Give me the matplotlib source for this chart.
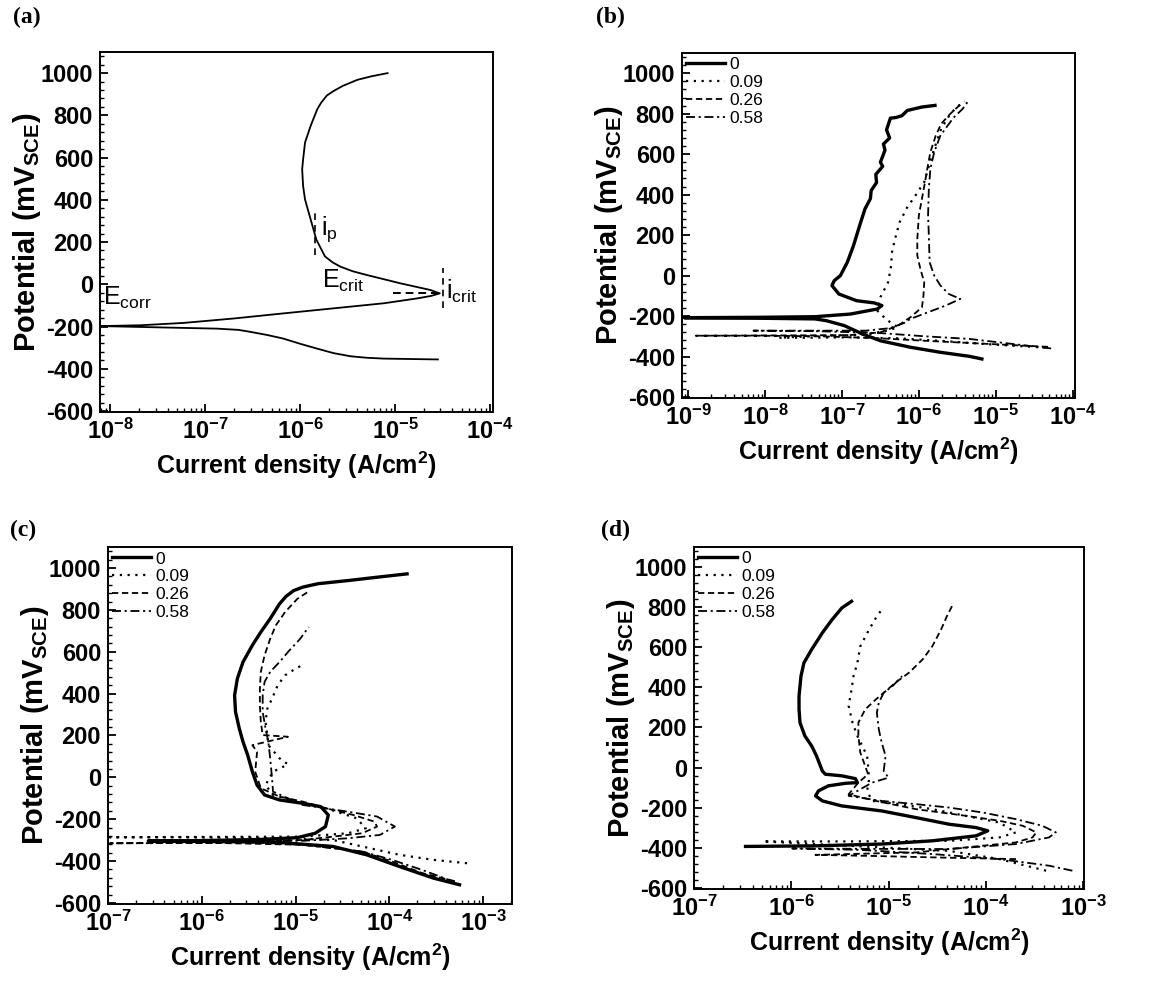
import numpy as np
import matplotlib
matplotlib.use('Agg')
import matplotlib.pyplot as plt
from matplotlib.ticker import FixedLocator, FixedFormatter, LogLocator, MultipleLocator, NullFormatter

plt.rcParams['font.family'] = ['Liberation Sans', 'DejaVu Sans']
plt.rcParams['mathtext.fontset'] = 'custom'
plt.rcParams['mathtext.rm'] = 'Liberation Sans'
plt.rcParams['mathtext.it'] = 'Liberation Sans:italic'
plt.rcParams['mathtext.bf'] = 'Liberation Sans:bold'
plt.rcParams['axes.unicode_minus'] = False

# ---- data (log10 of current density in A/cm2, potential in mV_SCE) ----
y_ticks = [-600, -400, -200, 0, 200, 400, 600, 800, 1000]
series_labels = ['0', '0.09', '0.26', '0.58']

# (a) schematic curve
a_logi = [-5.08, -5.25, -5.40, -5.55, -5.65, -5.72, -5.78, -5.82, -5.89, -5.95, -5.97, -5.98,
          -5.97, -5.95, -5.89, -5.83, -5.74, -5.66, -5.58, -5.45, -5.30, -5.12, -4.95, -4.78,
          -4.63, -4.53, -4.62, -4.77, -5.12, -5.65, -6.18, -6.70, -7.23, -7.68, -8.10, -7.40,
          -6.88, -6.65, -6.53, -6.35, -6.18, -6.00, -5.82, -5.65, -5.47, -5.30, -5.12, -4.55]
a_E = [1000, 985, 968, 940, 915, 894, 860, 830, 751, 671, 592, 544,
       465, 402, 306, 211, 132, 104, 84, 62, 44, 24, 5, -12,
       -27, -43, -55, -67, -90, -114, -138, -162, -183, -194, -198, -205,
       -210, -216, -225, -240, -257, -282, -305, -326, -341, -348, -352, -356]
ip_logi, ip_E = [-5.84, -5.84], [140, 345]
icrit_h_logi, icrit_h_E = [-5.02, -4.53], [-40, -40]
icrit_v_logi, icrit_v_E = [-4.50, -4.50], [-114, 76]

# (b)
b0_logi = [-5.79, -5.96, -6.15, -6.22, -6.30, -6.37, -6.42, -6.38, -6.46, -6.44, -6.50, -6.47,
           -6.56, -6.55, -6.62, -6.63, -6.70, -6.77, -6.85, -6.93, -7.02, -7.10, -7.13, -7.04,
           -6.81, -6.58, -6.48, -6.54, -6.89, -7.35, -8.05, -9.05, -8.00, -7.35, -7.20, -6.97,
           -6.73, -6.50, -6.11, -5.72, -5.34, -5.18]
b0_E = [841, 833, 816, 790, 781, 778, 720, 680, 650, 620, 560, 540,
        500, 460, 420, 380, 330, 247, 148, 66, 0, -25, -49, -91,
        -124, -135, -148, -165, -190, -203, -206, -208, -211, -214, -223, -247,
        -289, -322, -354, -379, -399, -412]
b09_logi = [-4.35, -5.14, -5.72, -6.27, -6.89, -7.47, -7.82, -7.30, -6.69, -6.42, -6.27, -6.42,
            -6.54, -6.50, -6.40, -6.36, -6.35, -6.31, -6.25, -6.15, -6.03, -5.93, -5.88, -5.80,
            -5.71, -5.59, -5.49, -5.40]
b09_E = [-356, -338, -322, -310, -305, -307, -307, -298, -293, -272, -256, -218,
         -173, -107, -33, 49, 115, 181, 264, 338, 404, 462, 528, 627,
         725, 800, 838, 860]
b26_logi = [-4.32, -5.34, -5.92, -6.50, -7.28, -8.05, -8.90, -8.00, -6.89, -6.50, -6.27, -6.11,
            -5.96, -5.94, -5.93, -5.98, -6.02, -6.02, -6.00, -5.96, -5.92, -5.89, -5.85, -5.78,
            -5.71, -5.59, -5.45]
b26_E = [-352, -333, -322, -310, -300, -297, -297, -296, -294, -280, -247, -206,
         -157, -99, -33, 33, 99, 181, 297, 379, 462, 528, 610, 692,
         750, 800, 849]
b58_logi = [-4.28, -5.34, -5.92, -6.50, -7.28, -8.15, -7.30, -6.69, -6.38, -6.19, -6.11, -5.88,
            -5.65, -5.46, -5.61, -5.72, -5.80, -5.86, -5.87, -5.88, -5.87, -5.85, -5.80, -5.72,
            -5.55, -5.43, -5.36]
b58_E = [-360, -313, -300, -284, -275, -272, -272, -272, -260, -234, -214, -181,
         -148, -115, -91, -49, 0, 66, 198, 297, 429, 528, 610, 692,
         780, 824, 861]

# (c)
c0_logi = [-3.81, -4.13, -4.44, -4.76, -4.92, -5.02, -5.10, -5.17, -5.27, -5.37, -5.46, -5.56,
           -5.62, -5.65, -5.64, -5.60, -5.56, -5.51, -5.46, -5.41, -5.33, -5.17, -4.92, -4.73,
           -4.65, -4.68, -4.79, -4.98, -5.40, -6.03, -6.57, -6.00, -5.20, -4.60, -4.24, -3.89,
           -3.53, -3.25]
c0_E = [972, 956, 940, 925, 909, 892, 865, 829, 758, 694, 631, 551,
        472, 392, 313, 234, 170, 106, 27, -37, -84, -108, -124, -140,
        -180, -235, -267, -288, -297, -302, -303, -306, -310, -330, -370, -426,
        -481, -513]
c09_logi = [-3.17, -3.53, -3.89, -4.29, -4.60, -5.20, -6.19, -6.98, -6.20, -4.92, -4.44, -4.25,
            -4.35, -4.67, -4.98, -5.24, -5.32, -5.24, -5.08, -5.17, -5.29, -5.30, -5.32, -5.30,
            -5.25, -5.19, -5.11, -5.00, -4.90]
c09_E = [-410, -394, -370, -330, -299, -290, -286, -286, -285, -283, -267, -243,
         -195, -148, -116, -84, -37, 27, 62, 91, 154, 202, 265, 329,
         376, 440, 488, 519, 543]
c26_logi = [-3.30, -3.65, -3.97, -4.29, -4.92, -5.87, -6.98, -5.87, -4.92, -4.60, -4.29, -4.13,
            -4.16, -4.38, -4.67, -4.92, -5.17, -5.37, -5.43, -5.41, -5.46, -5.08, -5.35, -5.37,
            -5.38, -5.38, -5.37, -5.33, -5.27, -5.21, -5.11, -4.98, -4.87]
c26_E = [-496, -457, -402, -354, -322, -313, -315, -311, -299, -283, -267, -235,
         -211, -180, -148, -116, -92, -52, 27, 122, 154, 194, 202, 265,
         345, 424, 504, 583, 662, 726, 790, 853, 885]
c58_logi = [-3.30, -3.65, -3.97, -4.29, -4.92, -5.60, -6.35, -5.60, -4.92, -4.44, -4.10, -3.94,
            -4.13, -4.44, -4.92, -5.24, -5.25, -5.27, -5.29, -5.32, -5.35, -5.35, -5.33, -5.27,
            -5.17, -5.08, -4.95, -4.86]
c58_E = [-500, -442, -394, -354, -322, -308, -306, -304, -303, -291, -275, -235,
         -187, -164, -132, -68, -5, 91, 170, 234, 313, 392, 456, 504,
         551, 599, 662, 718]

# (d)
d0_logi = [-5.38, -5.48, -5.58, -5.68, -5.79, -5.87, -5.90, -5.92, -5.92, -5.91, -5.86, -5.79,
           -5.74, -5.70, -5.68, -5.65, -5.48, -5.34, -5.32, -5.44, -5.62, -5.72, -5.75, -5.68,
           -5.48, -5.07, -4.72, -4.38, -4.10, -3.98, -4.10, -4.55, -5.07, -5.75, -6.47]
d0_E = [829, 796, 738, 672, 589, 522, 456, 357, 290, 224, 158, 108,
        58, 8, -17, -33, -41, -55, -75, -78, -91, -116, -141, -166,
        -191, -216, -249, -282, -299, -315, -340, -365, -381, -390, -393]
d09_logi = [-3.38, -3.86, -4.38, -5.07, -5.60, -6.29, -5.41, -4.38, -3.86, -3.69, -3.86, -4.21,
            -4.55, -4.89, -5.17, -5.22, -5.20, -5.21, -5.22, -5.27, -5.32, -5.37, -5.41, -5.38,
            -5.36, -5.32, -5.29, -5.20, -5.13, -5.07]
d09_E = [-514, -456, -415, -398, -385, -368, -368, -365, -348, -323, -274, -240,
         -207, -182, -166, -116, -60, 8, 58, 108, 158, 224, 307, 390,
         456, 522, 605, 688, 746, 788]
d26_logi = [-3.69, -4.50, -5.20, -5.75, -5.00, -4.72, -4.21, -3.69, -3.52, -3.48, -3.62, -3.86,
            -4.21, -4.72, -5.13, -5.41, -5.31, -5.21, -5.24, -5.29, -5.31, -5.31, -5.24, -5.13,
            -5.03, -4.93, -4.79, -4.65, -4.55, -4.46, -4.40, -4.33]
d26_E = [-456, -448, -440, -435, -426, -423, -398, -373, -348, -323, -290, -265,
         -240, -207, -166, -133, -75, -33, 8, 75, 158, 224, 290, 340,
         381, 423, 473, 539, 605, 688, 755, 821]
d58_logi = [-3.11, -3.35, -3.86, -4.55, -5.30, -5.99, -5.20, -4.38, -3.69, -3.35, -3.28, -3.42,
            -3.69, -4.03, -4.38, -4.72, -5.07, -5.41, -5.17, -5.00, -5.05, -5.03, -5.07, -5.10,
            -5.12, -5.10, -5.05, -4.96, -4.86]
d58_E = [-514, -489, -456, -431, -410, -403, -405, -406, -381, -348, -323, -290,
         -257, -224, -199, -182, -166, -141, -75, -50, -17, 58, 124, 191,
         274, 323, 373, 406, 456]

styles = [dict(ls='-', lw=2.4, color='black'),
          dict(ls=(0, (1, 2.5)), lw=1.6, color='black'),
          dict(ls=(0, (3.5, 2)), lw=1.3, color='black'),
          dict(ls=(0, (5, 2, 1.2, 2)), lw=1.3, color='black')]


def cur(logi):
    return 10.0 ** np.array(logi)


def style_axes(ax, xlo, xhi, xexp):
    ax.set_xscale('log')
    ax.set_xlim(10.0 ** xlo, 10.0 ** xhi)
    ax.set_ylim(-605, 1100)
    ax.xaxis.set_major_locator(FixedLocator([10.0 ** e for e in xexp]))
    ax.xaxis.set_major_formatter(FixedFormatter([r'$\mathbf{10^{%d}}$' % e for e in xexp]))
    ax.xaxis.set_minor_locator(LogLocator(base=10, subs=np.arange(2, 10), numticks=20))
    ax.xaxis.set_minor_formatter(NullFormatter())
    ax.set_yticks(y_ticks)
    ax.set_yticklabels([str(v) for v in y_ticks], fontweight='bold')
    ax.yaxis.set_minor_locator(MultipleLocator(40))
    ax.tick_params(which='both', direction='in', top=False, right=False)
    ax.tick_params(which='major', length=6, width=1.3, labelsize=17, pad=5)
    ax.tick_params(which='minor', length=3, width=1)
    for s in ax.spines.values():
        s.set_linewidth(1.4)
    ax.set_xlabel(r'Current density (A/cm$^{\mathbf{2}}$)', fontsize=18, fontweight='bold')
    ax.set_ylabel(r'Potential (mV$_{\mathbf{SCE}}$)', fontsize=21, fontweight='bold', labelpad=-2)


def add_series(ax, curves):
    for (li, e), st, lab in zip(curves, styles, series_labels):
        ax.plot(cur(li), e, label=lab, **st)
    ax.legend(loc='upper left', frameon=False, fontsize=12.5, handlelength=2.2,
              handletextpad=0.3, labelspacing=0.15, borderaxespad=0.15, borderpad=0.1)


fig = plt.figure(figsize=(11.64, 9.85), dpi=100)
ax_a = fig.add_axes([0.0859, 0.5817, 0.3376, 0.3655])
ax_b = fig.add_axes([0.5859, 0.5959, 0.3376, 0.3503])
ax_c = fig.add_axes([0.0928, 0.0822, 0.3471, 0.3624])
ax_d = fig.add_axes([0.5962, 0.0975, 0.3351, 0.3472])

# (a)
style_axes(ax_a, -8.11, -3.97, [-8, -7, -6, -5, -4])
ax_a.plot(cur(a_logi), a_E, color='black', lw=1.3)
ax_a.plot(cur(ip_logi), ip_E, color='black', lw=1.2, ls=(0, (4, 3)))
ax_a.plot(cur(icrit_h_logi), icrit_h_E, color='black', lw=1.4, ls=(0, (4, 2.5)))
ax_a.plot(cur(icrit_v_logi), icrit_v_E, color='black', lw=1.2, ls=(0, (4, 3)))
ax_a.text(10 ** -8.08, -98, r'E$_{\mathrm{corr}}$', fontsize=18, va='baseline')
ax_a.text(10 ** -5.78, 235, r'i$_{\mathrm{p}}$', fontsize=18, va='baseline')
ax_a.text(10 ** -5.77, -19, r'E$_{\mathrm{crit}}$', fontsize=18, va='baseline')
ax_a.text(10 ** -4.46, -67, r'i$_{\mathrm{crit}}$', fontsize=18, va='baseline')

# (b)
style_axes(ax_b, -9.08, -3.97, [-9, -8, -7, -6, -5, -4])
add_series(ax_b, [(b0_logi, b0_E), (b09_logi, b09_E), (b26_logi, b26_E), (b58_logi, b58_E)])

# (c)
style_axes(ax_c, -7.0, -2.69, [-7, -6, -5, -4, -3])
add_series(ax_c, [(c0_logi, c0_E), (c09_logi, c09_E), (c26_logi, c26_E), (c58_logi, c58_E)])

# (d)
style_axes(ax_d, -7.0, -2.99, [-7, -6, -5, -4, -3])
add_series(ax_d, [(d0_logi, d0_E), (d09_logi, d09_E), (d26_logi, d26_E), (d58_logi, d58_E)])

for x, y, t in [(0.011, 0.993, '(a)'), (0.512, 0.993, '(b)'), (0.009, 0.472, '(c)'), (0.516, 0.472, '(d)')]:
    fig.text(x, y, t, family='Liberation Serif', fontweight='bold', fontsize=17, va='top')

fig.savefig('out.png', dpi=100)
